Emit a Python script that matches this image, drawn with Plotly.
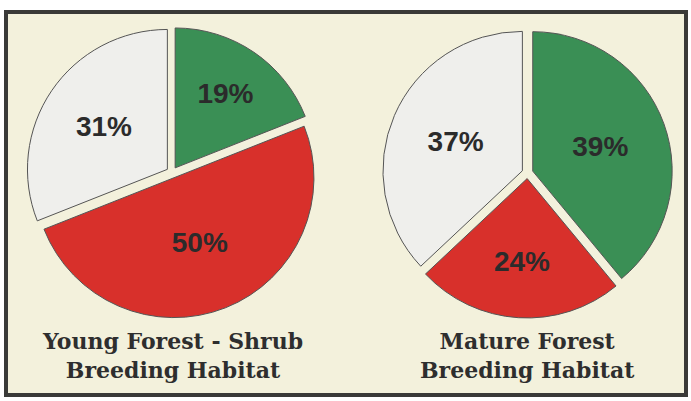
import plotly.graph_objects as go

categories = ["Shrub/young forest", "Open/other", "Mature forest"]
young_labels = ["19%", "50%", "31%"]
young_values = [19, 50, 31]
mature_labels = ["39%", "24%", "37%"]
mature_values = [39, 24, 37]
titles = ["Young Forest - Shrub<br>Breeding Habitat", "Mature Forest<br>Breeding Habitat"]

colors = ["#3a8f55", "#d8302b", "#efefec"]
W, H = 691, 401

def px(x): return x / W
def py(y): return 1 - y / H

fig = go.Figure()
fig.add_trace(go.Pie(
    values=young_values, labels=["Green", "Red", "White"], text=young_labels,
    textinfo="text", textposition="inside", insidetextorientation="horizontal",
    sort=False, direction="clockwise", rotation=0,
    pull=[0.04, 0.04, 0.04],
    marker=dict(colors=colors, line=dict(color="#555555", width=1)),
    textfont=dict(family="Liberation Sans", size=28, color="#2b2b2b", weight="bold"),
    domain=dict(x=[px(21), px(323)], y=[py(318), py(27)]),
    showlegend=False, hoverinfo="skip",
))
fig.add_trace(go.Pie(
    values=mature_values, labels=["Green", "Red", "White"], text=mature_labels,
    textinfo="text", textposition="inside", insidetextorientation="horizontal",
    sort=False, direction="clockwise", rotation=0,
    pull=[0.04, 0.04, 0.04],
    marker=dict(colors=colors, line=dict(color="#555555", width=1)),
    textfont=dict(family="Liberation Sans", size=28, color="#2b2b2b", weight="bold"),
    domain=dict(x=[px(380), px(675)], y=[py(318), py(28)]),
    showlegend=False, hoverinfo="skip",
))

fig.add_shape(type="rect", xref="paper", yref="paper",
              x0=px(6), x1=px(686), y0=py(395), y1=py(12),
              fillcolor="#f3f1dc", line=dict(color="#3a3a38", width=4), layer="below")

for xc, t in [(172, titles[0]), (527, titles[1])]:
    fig.add_annotation(x=px(xc), y=py(355), xref="paper", yref="paper",
                       xanchor="center", yanchor="middle",
                       text=t, showarrow=False, align="center",
                       font=dict(family="DejaVu Serif", size=22, color="#2e2e2e", weight="bold"))

fig.update_layout(width=W, height=H, margin=dict(l=0, r=0, t=0, b=0),
                  paper_bgcolor="white", plot_bgcolor="white")
fig.write_html("out.html", config={"displayModeBar": False},
               post_script="document.body.style.margin='0';document.body.style.overflow='hidden';")
